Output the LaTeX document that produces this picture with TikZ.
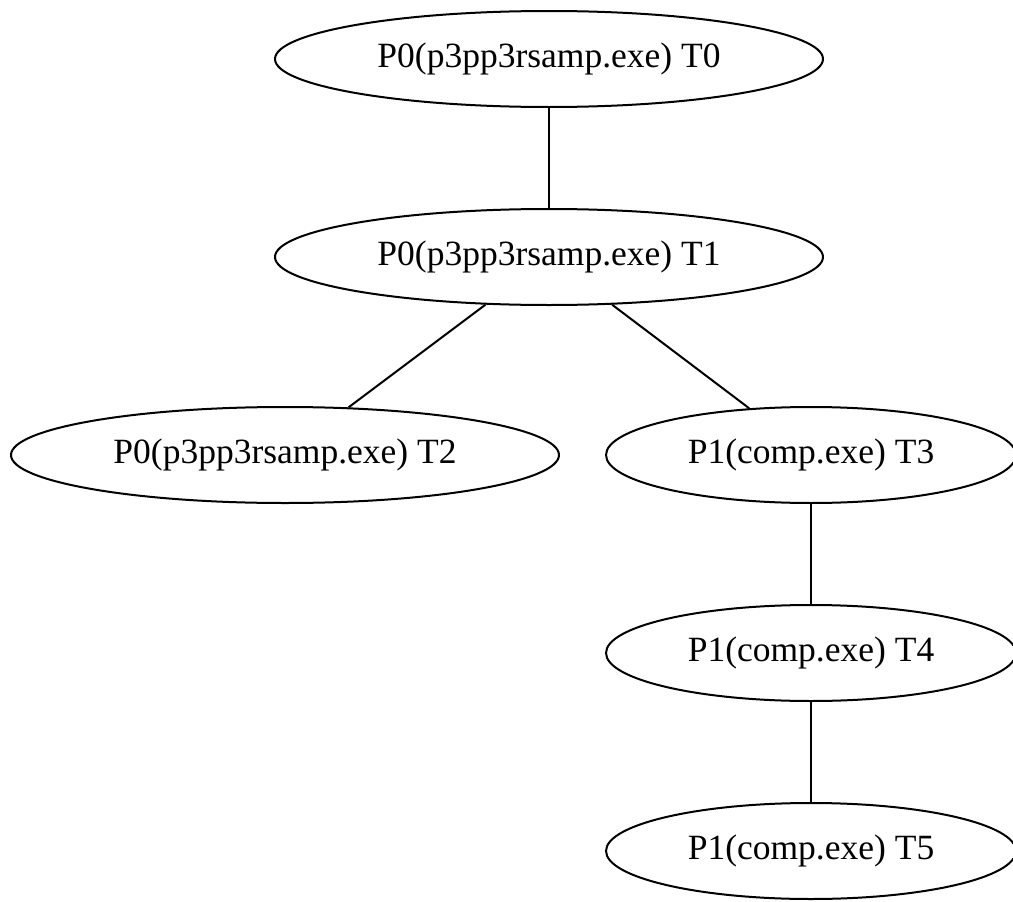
\documentclass[tikz,border=0pt]{standalone}
\usepackage{fontspec}
\setmainfont{Liberation Serif}
\usetikzlibrary{shapes.geometric}
\begin{document}
\begin{tikzpicture}[x=1pt,y=-1pt,
		thread/.style={draw, ellipse, line width=2pt, inner sep=0pt, minimum height=96pt,
			font=\fontsize{35.5}{40}\selectfont},
		wide/.style={thread, minimum width=548pt},
		slim/.style={thread, minimum width=410pt}]
	\useasboundingbox (0,0) rectangle (1013,902);
	\node[wide] (t0) at (549,59) {P0(p3pp3rsamp.exe) T0};
	\node[wide] (t1) at (549,257) {P0(p3pp3rsamp.exe) T1};
	\node[wide] (t2) at (285,455) {P0(p3pp3rsamp.exe) T2};
	\node[slim] (t3) at (811,455) {P1(comp.exe) T3};
	\node[slim] (t4) at (811,653) {P1(comp.exe) T4};
	\node[slim] (t5) at (811,851) {P1(comp.exe) T5};
	\foreach \a/\b in {t0/t1,t1/t2,t1/t3,t3/t4,t4/t5}
		\draw[line width=2pt] (\a) -- (\b);
\end{tikzpicture}
\end{document}
